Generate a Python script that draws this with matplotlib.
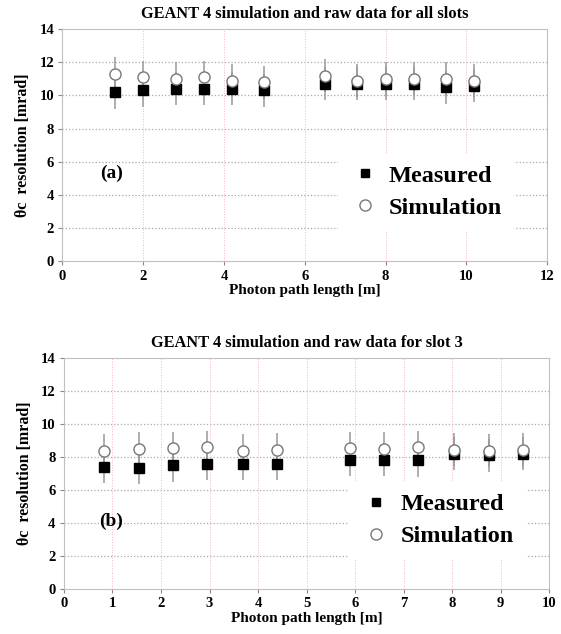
import numpy as np
import matplotlib.pyplot as plt
from matplotlib.lines import Line2D

plt.rcParams['font.family'] = ['Liberation Serif', 'DejaVu Serif']
plt.rcParams['font.weight'] = 'bold'

# (a) all slots
x_a = [1.3, 2.0, 2.8, 3.5, 4.2, 5.0, 6.5, 7.3, 8.0, 8.7, 9.5, 10.2]
meas_a = [10.2, 10.3, 10.4, 10.4, 10.4, 10.3, 10.7, 10.7, 10.7, 10.7, 10.5, 10.6]
sim_a = [11.3, 11.1, 11.0, 11.1, 10.9, 10.8, 11.2, 10.9, 11.0, 11.0, 11.0, 10.9]

# (b) slot 3
x_b = [0.83, 1.55, 2.25, 2.95, 3.68, 4.38, 5.9, 6.6, 7.3, 8.03, 8.75, 9.45]
meas_b = [7.4, 7.35, 7.5, 7.6, 7.6, 7.6, 7.85, 7.85, 7.8, 8.2, 8.1, 8.2]
sim_b = [8.4, 8.5, 8.55, 8.6, 8.4, 8.45, 8.55, 8.5, 8.6, 8.45, 8.4, 8.45]

err = 1.0

fig = plt.figure(figsize=(5.61, 6.34), dpi=100)
ax1 = fig.add_axes([0.1114, 0.588, 0.864, 0.366])
ax2 = fig.add_axes([0.114, 0.071, 0.865, 0.364])

def draw(ax, x, meas, sim, xmax, xstep, title, tag, tag_pos, leg_anchor):
    ax.errorbar(x, meas, yerr=err, fmt='none', ecolor='#999999', elinewidth=1.1, zorder=2)
    ax.errorbar(x, sim, yerr=err, fmt='none', ecolor='#999999', elinewidth=1.1, zorder=2)
    ax.plot(x, meas, 's', color='black', markersize=7, zorder=3)
    ax.plot(x, sim, 'o', mfc='white', mec='#777777', markersize=8, mew=1, zorder=4)
    ax.set_xlim(0, xmax)
    ax.set_ylim(0, 14)
    ax.set_xticks(np.arange(0, xmax + 0.1, xstep))
    ax.set_yticks(np.arange(0, 15, 2))
    for v in np.arange(2, 14, 2):
        ax.axhline(v, color='#aaaaaa', ls=':', lw=0.9, zorder=0)
    for v in np.arange(xstep, xmax, xstep):
        ax.axvline(v, color='#f6b4bc', ls=':', lw=0.7, zorder=0)
    for s in ax.spines.values():
        s.set_color('#c0c0c0')
    ax.tick_params(direction='out', length=3, color='#888888', labelsize=10.5, pad=3)
    for lab in ax.get_xticklabels() + ax.get_yticklabels():
        lab.set_fontweight('bold')
    ax.set_title(title, fontsize=11.8, fontweight='bold', pad=8)
    ax.set_xlabel('Photon path length [m]', fontsize=11, fontweight='bold', labelpad=1)
    ax.set_ylabel('θc  resolution [mrad]', fontsize=11.5, fontweight='bold', labelpad=6)
    ax.text(tag_pos[0], tag_pos[1], tag, transform=ax.transAxes, fontsize=14,
            fontweight='bold', va='center')
    handles = [Line2D([], [], ls='none', marker='s', color='black', markersize=6),
               Line2D([], [], ls='none', marker='o', mfc='white', mec='#777777', markersize=8)]
    leg = ax.legend(handles, ['Measured', 'Simulation'], loc='upper left',
                    bbox_to_anchor=leg_anchor, frameon=True, fancybox=False,
                    edgecolor='none', facecolor='white', framealpha=1,
                    prop={'size': 17.5, 'weight': 'bold'}, handletextpad=0.4,
                    handlelength=1.2, labelspacing=0.4, borderpad=0.5)
    leg.set_zorder(5)

draw(ax1, x_a, meas_a, sim_a, 12, 2, 'GEANT 4 simulation and raw data for all slots',
     '(a)', (0.077, 0.38), (0.543, 0.52))
draw(ax2, x_b, meas_b, sim_b, 10, 1, 'GEANT 4 simulation and raw data for slot 3',
     '(b)', (0.072, 0.294), (0.563, 0.52))

fig.savefig('out.png', dpi=100)
